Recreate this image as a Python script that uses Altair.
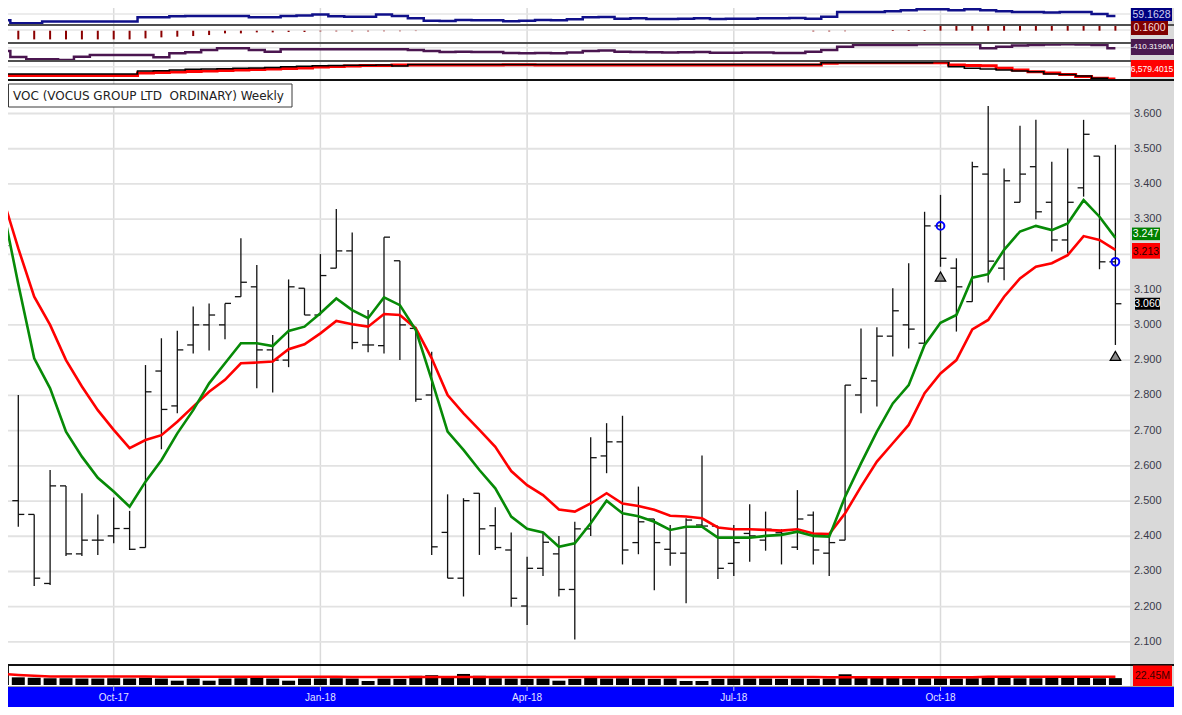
import altair as alt
import pandas as pd

# ---------------- data (weekly bars, Aug-2017 .. Dec-2018) ----------------
weeks = [d.strftime("%Y-%m-%d") for d in pd.date_range("2017-08-14", periods=71, freq="7D")]

opens = [3.300, 2.501, 2.462, 2.266, 2.543, 2.350, 2.389, 2.401, 2.422, 2.368,
         2.869, 2.770, 2.943, 3.000, 3.000, 3.080, 3.108, 2.929, 2.900, 3.104,
         3.028, 3.161, 3.210, 2.943, 2.941, 3.182, 2.990, 2.801, 2.411, 2.281,
         2.522, 2.430, 2.361, 2.202, 2.309, 2.350, 2.249, 2.421, 2.628, 2.668,
         2.382, 2.449, 2.363, 2.352, 2.432, 2.429, 2.323, 2.408, 2.389, 2.410,
         2.369, 2.460, 2.352, 2.389, 2.801, 2.841, 2.968, 3.000, 2.948, 3.281,
         3.161, 3.066, 3.428, 3.161, 3.348, 3.449, 3.348, 3.241, 3.389, 3.479,
         3.179]
highs = [3.360, 2.801, 2.462, 2.588, 2.543, 2.522, 2.462, 2.510, 2.472, 2.886,
         2.962, 2.983, 3.052, 3.061, 3.061, 3.246, 3.170, 2.971, 3.129, 3.104,
         3.201, 3.329, 3.262, 3.042, 3.249, 3.182, 2.995, 2.924, 2.519, 2.508,
         2.522, 2.482, 2.411, 2.342, 2.411, 2.401, 2.441, 2.681, 2.721, 2.742,
         2.541, 2.449, 2.432, 2.451, 2.629, 2.429, 2.432, 2.491, 2.470, 2.420,
         2.531, 2.470, 2.408, 2.829, 2.990, 2.993, 3.104, 3.175, 3.321, 3.369,
         3.189, 3.463, 3.621, 3.444, 3.565, 3.582, 3.463, 3.501, 3.582, 3.479,
         3.511]
lows = [3.170, 2.427, 2.259, 2.262, 2.344, 2.344, 2.347, 2.380, 2.361, 2.368,
        2.647, 2.749, 2.919, 2.927, 2.959, 3.080, 2.820, 2.808, 2.880, 3.028,
        3.028, 3.161, 2.931, 2.922, 2.919, 2.900, 2.782, 2.347, 2.281, 2.229,
        2.347, 2.361, 2.200, 2.148, 2.287, 2.229, 2.107, 2.401, 2.579, 2.320,
        2.349, 2.247, 2.316, 2.210, 2.429, 2.279, 2.287, 2.328, 2.359, 2.320,
        2.361, 2.320, 2.287, 2.389, 2.749, 2.768, 2.910, 2.933, 2.948, 3.165,
        2.981, 3.066, 3.120, 3.127, 3.348, 3.300, 3.208, 3.203, 3.364, 3.158,
        2.943]
closes = [3.225, 2.462, 2.281, 2.543, 2.350, 2.389, 2.389, 2.422, 2.363, 2.810,
          2.760, 2.929, 3.000, 3.028, 3.061, 3.121, 2.929, 2.900, 3.108, 3.028,
          3.140, 3.210, 2.950, 2.943, 3.249, 3.000, 2.789, 2.370, 2.281, 2.501,
          2.421, 2.368, 2.224, 2.309, 2.383, 2.249, 2.421, 2.623, 2.668, 2.361,
          2.441, 2.382, 2.352, 2.446, 2.429, 2.309, 2.382, 2.401, 2.420, 2.408,
          2.449, 2.361, 2.382, 2.829, 2.848, 2.968, 3.040, 2.988, 3.281, 3.189,
          3.108, 3.449, 3.181, 3.409, 3.428, 3.321, 3.241, 3.348, 3.541, 3.179,
          3.060]
ma_fast = [3.339, 3.115, 2.905, 2.820, 2.697, 2.626, 2.566, 2.527, 2.484, 2.555,
           2.616, 2.692, 2.758, 2.834, 2.891, 2.948, 2.948, 2.940, 2.983, 2.995,
           3.033, 3.075, 3.042, 3.019, 3.078, 3.056, 2.985, 2.844, 2.697, 2.645,
           2.588, 2.536, 2.456, 2.421, 2.411, 2.370, 2.380, 2.437, 2.501, 2.465,
           2.457, 2.441, 2.418, 2.427, 2.427, 2.396, 2.396, 2.396, 2.401, 2.404,
           2.413, 2.401, 2.399, 2.512, 2.607, 2.697, 2.777, 2.829, 2.943, 3.006,
           3.028, 3.134, 3.144, 3.213, 3.265, 3.281, 3.269, 3.288, 3.354, 3.307,
           3.247]
ma_slow = [3.365, 3.217, 3.080, 3.000, 2.900, 2.825, 2.758, 2.702, 2.650, 2.673,
           2.687, 2.725, 2.768, 2.810, 2.844, 2.891, 2.893, 2.896, 2.931, 2.945,
           2.976, 3.011, 3.002, 2.995, 3.031, 3.028, 2.990, 2.905, 2.801, 2.749,
           2.702, 2.654, 2.585, 2.545, 2.517, 2.476, 2.470, 2.493, 2.522, 2.493,
           2.486, 2.475, 2.458, 2.456, 2.451, 2.425, 2.420, 2.420, 2.418, 2.416,
           2.420, 2.408, 2.406, 2.465, 2.541, 2.612, 2.664, 2.716, 2.806, 2.862,
           2.900, 2.987, 3.014, 3.080, 3.132, 3.165, 3.175, 3.198, 3.252, 3.241,
           3.213]
volume_m = [62, 25, 24, 22, 22, 21, 21, 22, 21, 24,
            21, 14, 21, 14, 21, 22, 23, 21, 14, 21,
            21, 22, 21, 13, 21, 20, 30, 32, 26, 36,
            30, 22, 21, 20, 21, 14, 20, 24, 21, 22,
            21, 20, 21, 13, 13, 20, 21, 21, 21, 20,
            21, 20, 21, 35, 26, 26, 23, 21, 22, 22,
            21, 22, 24, 24, 22, 22, 23, 23, 23, 22,
            22.45]
volume_ma = [36, 33, 30, 28, 28, 28, 28, 28, 28, 28,
             27, 27, 27, 27, 27, 27, 27, 27, 27, 27,
             27, 27, 26, 26, 26, 26, 26, 26, 26, 26,
             26, 26, 26, 26, 26, 26, 26, 26, 26, 26,
             26, 26, 26, 26, 26, 26, 26, 26, 26, 26,
             26, 26, 25.5, 25.5, 25.5, 25.5, 25.5, 25.5, 25.5, 25.5,
             25.5, 25.5, 27, 27, 27, 27, 27, 27, 27, 27,
             27]
ind_blue = [46, 37.4, 37.4, 42.4, 42.4, 42.4, 42.4, 42.4, 42.4, 54.9,
            54.9, 57.9, 59.2, 59.2, 59.2, 59.2, 54.9, 54.9, 59.2, 60.4,
            63.4, 57.9, 56.7, 56.7, 63.4, 59.2, 52, 45, 44, 47,
            46, 46, 43, 45, 47, 46, 49, 55, 56, 51,
            52, 50, 50, 51, 52, 50, 51, 51, 52, 52,
            53, 50.9, 56.7, 70.9, 70.9, 70.9, 73.4, 75.9, 79.2, 79.2,
            75.9, 79.2, 75.9, 73.4, 70.9, 70.9, 69.2, 70.9, 70.9, 64.9,
            59.1628]
ind_hist = [-0.244, -0.244, -0.244, -0.244, -0.244, -0.244, -0.244, -0.244, -0.244, -0.216,
            -0.187, -0.168, -0.150, -0.122, -0.075, -0.075, -0.047, -0.047, -0.037, -0.037,
            -0.019, -0.019, -0.019, -0.019, -0.015, -0.015, -0.010, 0, 0, 0,
            0, 0, 0, 0, 0, 0, 0, 0, 0, 0,
            0, 0, 0, 0, 0, 0, 0, 0, 0, 0,
            0, -0.020, -0.020, -0.015, 0, 0, 0.020, 0.020, 0.020, 0.16,
            0.16, 0.16, 0.16, 0.16, 0.16, 0.16, 0.16, 0.16, 0.16, 0.16,
            0.16]
ind_purple = [-464.3, -584.3, -630.3, -630.3, -644.3, -578.3, -544.3, -544.3, -544.3, -544.3,
              -590.3, -510.3, -490.3, -444.3, -410.3, -410.3, -444.3, -478.3, -430.3, -430.3,
              -430.3, -430.3, -430.3, -430.3, -430.3, -430.3, -444.3, -464.3, -484.3, -478.3,
              -484.3, -484.3, -504.3, -510.3, -504.3, -510.3, -494.3, -464.3, -454.3, -478.3,
              -484.3, -490.3, -494.3, -490.3, -484.3, -498.3, -498.3, -494.3, -494.3, -504.3,
              -504.3, -478.3, -444.3, -378.3, -344.3, -344.3, -344.3, -344.3, -330.3, -330.3,
              -330.3, -330.3, -410.3, -378.3, -354.3, -344.3, -334.3, -330.3, -334.3, -344.3,
              -410.3196]
ind_red = [7104.4, 7104.4, 7104.4, 7104.4, 7104.4, 7104.4, 7104.4, 7104.4, 7104.4, 7479.4,
           7554.4, 7629.4, 7704.4, 7779.4, 7854.4, 7929.4, 8004.4, 8079.4, 8154.4, 8229.4,
           8379.4, 8454.4, 8529.4, 8604.4, 8604.4, 8679.4, 8679.4, 8679.4, 8694.4, 8694.4,
           8679.4, 8679.4, 8709.4, 8709.4, 8679.4, 8679.4, 8694.4, 8694.4, 8679.4, 8679.4,
           8679.4, 8694.4, 8694.4, 8679.4, 8679.4, 8679.4, 8694.4, 8694.4, 8679.4, 8679.4,
           8679.4, 8679.4, 8934.4, 9024.4, 9024.4, 9024.4, 9024.4, 9024.4, 9024.4, 9024.4,
           8679.4, 8604.4, 8574.4, 8184.4, 7929.4, 7674.4, 7479.4, 7254.4, 6954.4, 6684.4,
           6579.4015]
ind_black = [7329.4, 7329.4, 7329.4, 7329.4, 7329.4, 7329.4, 7329.4, 7329.4, 7329.4, 7779.4,
             7824.4, 7929.4, 8034.4, 8079.4, 8124.4, 8184.4, 8229.4, 8304.4, 8424.4, 8499.4,
             8574.4, 8604.4, 8634.4, 8649.4, 8679.4, 8529.4, 8754.4, 8754.4, 8754.4, 8754.4,
             8754.4, 8754.4, 8754.4, 8754.4, 8754.4, 8754.4, 8754.4, 8754.4, 8754.4, 8754.4,
             8754.4, 8754.4, 8754.4, 8754.4, 8754.4, 8754.4, 8754.4, 8754.4, 8754.4, 8754.4,
             8754.4, 8754.4, 9024.4, 9024.4, 9024.4, 9024.4, 9024.4, 9024.4, 9024.4, 9174.4,
             8424.4, 8184.4, 8079.4, 7929.4, 7779.4, 7674.4, 7329.4, 7254.4, 7029.4, 6684.4,
             6429.4]

month_dates = ["2017-10-02", "2018-01-01", "2018-04-02", "2018-07-02", "2018-10-01"]
month_labels = ["Oct-17", "Jan-18", "Apr-18", "Jul-18", "Oct-18"]
price_ticks = [2.1, 2.2, 2.3, 2.4, 2.5, 2.6, 2.7, 2.8, 2.9, 3.0, 3.1, 3.2, 3.3, 3.4, 3.5, 3.6]
# the 3.200 label sits under the last-value boxes in the reference, so it is not printed
price_labels = [2.1, 2.2, 2.3, 2.4, 2.5, 2.6, 2.7, 2.8, 2.9, 3.0, 3.1, 3.3, 3.4, 3.5, 3.6]
signal_weeks = ["2018-10-01", "2018-12-17"]
signal_circle = [3.281, 3.179]
signal_triangle = [3.137, 2.912]
title_text = "VOC (VOCUS GROUP LTD\u00a0 ORDINARY) Weekly"

# ---------------- layout ----------------
W = 1122        # x-plot width
TW = 1166       # full canvas width (incl. right label strip)
H = 699
VOL_TOP, VOL_BOT = 657, 678
FONT = "Liberation Sans"

df = pd.DataFrame({"week": weeks, "open": opens, "high": highs, "low": lows,
                   "close": closes, "fast": ma_fast, "slow": ma_slow,
                   "vol": volume_m, "volma": volume_ma, "blue": ind_blue,
                   "hist": ind_hist, "purple": ind_purple, "red": ind_red,
                   "black": ind_black})
grid_df = pd.DataFrame({"date": month_dates, "label": month_labels})
price_df = pd.DataFrame({"price": price_ticks})
plabel_df = pd.DataFrame({"price": price_labels})
sig_df = pd.DataFrame({"week": signal_weeks, "circ": signal_circle, "tri": signal_triangle})
one = pd.DataFrame({"k": [0]})


def lin_domain(v1, y1, v2, y2):
    s = (y2 - y1) / (v2 - v1)
    a = v1 + (H - y1) / s
    b = v1 + (0 - y1) / s
    return [min(a, b), max(a, b)]


xs = alt.Scale(type="utc", padding=0, nice=False, domain=[
    alt.DateTime(year=2017, month=8, date=16, hours=11, minutes=10, utc=True),
    alt.DateTime(year=2018, month=12, date=23, hours=10, minutes=19, utc=True)])
X = alt.X("week:T", scale=xs, axis=None)
XG = alt.X("date:T", scale=xs, axis=None)

ps = alt.Scale(domain=lin_domain(3.6, 105.5, 2.1, 633.95), zero=False, nice=False)
s_blue = alt.Scale(domain=lin_domain(80, 1, 35, 16), zero=False, nice=False)
s_hist = alt.Scale(domain=lin_domain(0, 22.7, 0.16, 17), zero=False, nice=False)
s_purp = alt.Scale(domain=lin_domain(-410.32, 40.3, -610.32, 50.3), zero=False, nice=False)
s_d = alt.Scale(domain=lin_domain(6579.4, 71, 8079.4, 61), zero=False, nice=False)
s_vol = alt.Scale(domain=lin_domain(0, VOL_BOT - 1, 62, VOL_TOP + 1), zero=False, nice=False)


def PY(field):
    return alt.Y(field, type="quantitative", scale=ps, axis=None)


def hrule(y, color, width, x1=0, x2=TW):
    return alt.Chart(one).mark_rule(color=color, strokeWidth=width).encode(
        x=alt.value(x1), x2=alt.value(x2), y=alt.value(y))


def rect(x1, x2, y1, y2, fill, **kw):
    return alt.Chart(one).mark_rect(fill=fill, **kw).encode(
        x=alt.value(x1), x2=alt.value(x2), y=alt.value(y1), y2=alt.value(y2))


def label(text, x, y, color, size=11, align="center", font=FONT):
    return alt.Chart(pd.DataFrame({"t": [text]})).mark_text(
        align=align, baseline="middle", fontSize=size, font=font, color=color).encode(
        x=alt.value(x), y=alt.value(y), text="t:N")


layers = []
# right label strip
layers.append(rect(W, TW, 0, VOL_BOT, "#d9d9d9"))
# vertical month grid through all panels
layers.append(alt.Chart(grid_df).mark_rule(color="#dadada", strokeWidth=1.5).encode(
    x=XG, y=alt.value(0), y2=alt.value(VOL_BOT)))
# light grid in indicator panels
for yy in [6, 22, 39.7, 58.7]:
    layers.append(hrule(yy, "#e6e6e6", 1.5, 0, W))
# price grid
layers.append(alt.Chart(price_df).mark_rule(color="#e2e2e2", strokeWidth=1.8).encode(
    y=PY("price"), x=alt.value(0), x2=alt.value(W)))

base = alt.Chart(df)
# indicator panel A (blue)
layers.append(base.mark_line(color="#10108a", strokeWidth=2.5, interpolate="step", clip=True).encode(
    x=X, y=alt.Y("blue:Q", scale=s_blue, axis=None)))
# indicator panel B (histogram)
layers.append(base.mark_rule(color="#8b0000", strokeWidth=2, clip=True).encode(
    x=X, y=alt.Y("hist:Q", scale=s_hist, axis=None), y2=alt.datum(0)))
# indicator panel C (purple)
layers.append(base.mark_line(color="#4b1650", strokeWidth=2.5, interpolate="step", clip=True).encode(
    x=X, y=alt.Y("purple:Q", scale=s_purp, axis=None)))
# indicator panel D (red / black)
layers.append(base.mark_line(color="#ff0000", strokeWidth=3, interpolate="step", clip=True).encode(
    x=X, y=alt.Y("red:Q", scale=s_d, axis=None)))
layers.append(base.mark_line(color="#000000", strokeWidth=1.6, interpolate="step", clip=True).encode(
    x=X, y=alt.Y("black:Q", scale=s_d, axis=None)))

# panel separators
for yy, col in [(17, "#505050"), (35, "#505050"), (53, "#505050"), (72, "#111111")]:
    layers.append(hrule(yy, col, 2))

# OHLC bars
layers.append(base.mark_rule(color="#111111", strokeWidth=1.3, clip=True).encode(
    x=X, y=PY("low"), y2=alt.Y2("high")))
layers.append(base.mark_rule(color="#111111", strokeWidth=1.3, xOffset=-6, x2Offset=0, clip=True).encode(
    x=X, x2=alt.X2("week"), y=PY("open")))
layers.append(base.mark_rule(color="#111111", strokeWidth=1.3, xOffset=0, x2Offset=6, clip=True).encode(
    x=X, x2=alt.X2("week"), y=PY("close")))
# moving averages
layers.append(base.mark_line(color="#ff0000", strokeWidth=2.6, clip=True).encode(x=X, y=PY("slow")))
layers.append(base.mark_line(color="#078a07", strokeWidth=2.6, clip=True).encode(x=X, y=PY("fast")))
# signals
sig = alt.Chart(sig_df)
layers.append(sig.mark_point(shape="circle", filled=False, color="#0000ff", strokeWidth=2,
                             size=60, opacity=1).encode(x=X, y=PY("circ")))
layers.append(sig.mark_point(shape="triangle-up", filled=True, fill="#8a8a8a", stroke="#000000",
                             strokeWidth=1.2, size=110, opacity=1).encode(x=X, y=PY("tri")))

# title box
layers.append(rect(0.5, 284, 76, 99, "#ffffff", stroke="#3a3a3a", strokeWidth=1))
layers.append(label(title_text, 5, 88, "#222222", size=12, align="left", font="DejaVu Sans"))

# volume panel
layers.append(base.mark_bar(color="#000000", size=13, clip=True).encode(
    x=X, y=alt.Y("vol:Q", scale=s_vol, axis=None), y2=alt.datum(0)))
layers.append(base.mark_line(color="#ff0000", strokeWidth=2.5, clip=True).encode(
    x=X, y=alt.Y("volma:Q", scale=s_vol, axis=None)))
layers.append(hrule(VOL_TOP, "#111111", 2))
layers.append(hrule(VOL_BOT + 0.5, "#9a9a9a", 1))

# date band
layers.append(rect(0, TW, VOL_BOT + 1, H, "#0000ff"))
layers.append(alt.Chart(grid_df).mark_rule(color="#c8c8ff", strokeWidth=1).encode(
    x=XG, y=alt.value(VOL_BOT + 1), y2=alt.value(VOL_BOT + 5)))
layers.append(alt.Chart(grid_df).mark_text(fontSize=10, font=FONT, color="#e4e4ff",
                                           baseline="middle", align="center").encode(
    x=XG, y=alt.value(VOL_BOT + 12), text="label:N"))

# right price labels
layers.append(alt.Chart(plabel_df).mark_text(align="left", baseline="middle", fontSize=11,
                                             font=FONT, color="#3a3a4a").encode(
    x=alt.value(1126), y=PY("price"), text=alt.Text("price:Q", format=".3f")))

# last-value boxes on price axis
last_df = pd.DataFrame({"fast": [ma_fast[-1]], "slow": [ma_slow[-1]], "close": [closes[-1]],
                        "tf": [f"{ma_fast[-1]:.3f}"], "ts": [f"{ma_slow[-1]:.3f}"],
                        "tc": [f"{closes[-1]:.3f}"]})
lb = alt.Chart(last_df)
layers.append(lb.mark_point(shape="M-1,-0.45H1V0.45H-1Z", filled=True, fill="#008000", size=784,
                            opacity=1, strokeWidth=0, yOffset=-4).encode(x=alt.value(1138), y=PY("fast")))
layers.append(lb.mark_text(fontSize=10.5, font=FONT, color="#ffffff", yOffset=-4).encode(
    x=alt.value(1138), y=PY("fast"), text="tf:N"))
layers.append(lb.mark_point(shape="M-1,-0.56H1V0.56H-1Z", filled=True, fill="#ff0000", size=784,
                            opacity=1, strokeWidth=0, yOffset=1).encode(x=alt.value(1138), y=PY("slow")))
layers.append(lb.mark_text(fontSize=10.5, font=FONT, color="#2a0000", yOffset=2).encode(
    x=alt.value(1138), y=PY("slow"), text="ts:N"))
layers.append(lb.mark_point(shape="M-1,-0.48H1V0.48H-1Z", filled=True, fill="#000000", size=625,
                            opacity=1, strokeWidth=0).encode(x=alt.value(1139.5), y=PY("close")))
layers.append(lb.mark_text(fontSize=10.5, font=FONT, color="#ffffff").encode(
    x=alt.value(1139.5), y=PY("close"), text="tc:N"))

# indicator value boxes
layers.append(rect(1123, 1164, 0, 13, "#000080"))
layers.append(label(f"{ind_blue[-1]:.4f}", 1143.5, 7, "#d0d0f0", size=10.5))
layers.append(rect(1123, 1160, 13, 27, "#800000"))
layers.append(label(f"{ind_hist[-1]:.4f}", 1141.5, 20, "#f4dada", size=10.5))
layers.append(rect(1123, TW, 31, 47, "#4a1a50"))
layers.append(label(f"{ind_purple[-1]:.4f}M", 1144, 39, "#ffffff", size=8))
layers.append(rect(1123, TW, 52, 69, "#ff0000"))
layers.append(label(f"{ind_red[-1]:,.4f}", 1144, 60.5, "#ffffff", size=8.5))
layers.append(rect(1125, 1164, VOL_TOP + 0.5, VOL_BOT, "#ff0000"))
layers.append(label(f"{volume_m[-1]:.2f}M", 1144.5, (VOL_TOP + VOL_BOT) / 2, "#3a0000", size=10.5))

chart = alt.layer(*layers).resolve_scale(y="independent").properties(
    width=W, height=H,
    padding={"left": 0, "top": 0, "right": TW - W, "bottom": 0},
    autosize=alt.AutoSizeParams(type="none"),
    background="#ffffff",
).configure_view(stroke=None)

chart.save("out.html", embed_options={"renderer": "svg", "actions": False})
